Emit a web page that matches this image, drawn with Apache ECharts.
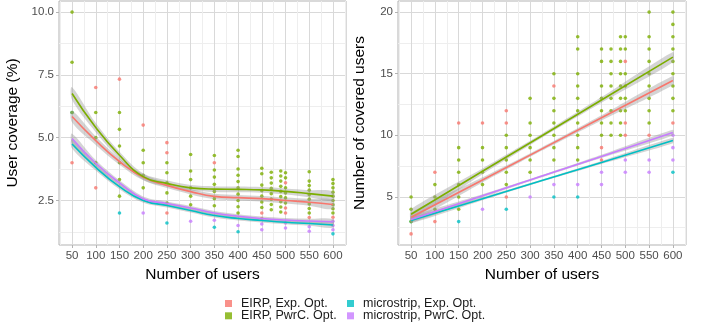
<!DOCTYPE html>
<html>
<head>
<meta charset="utf-8">
<script src="https://cdn.jsdelivr.net/npm/echarts@6/dist/echarts.min.js"></script>
<style>
  html, body { margin: 0; padding: 0; background: #fff; }
  #chart { width: 708px; height: 327px; }
</style>
</head>
<body>
<div id="chart"></div>
<script>
const FONT = '"Liberation Sans", Arial, sans-serif';

const seriesNames = ['EIRP, Exp. Opt.', 'EIRP, PwrC. Opt.', 'microstrip, Exp. Opt.', 'microstrip, PwrC. Opt.'];
const seriesColors = ['#F8766D', '#7CAE00', '#00BFC4', '#C77CFF'];

const userTicks = [50, 100, 150, 200, 250, 300, 350, 400, 450, 500, 550, 600];
const userMinor = [25, 75, 125, 175, 225, 275, 325, 375, 425, 475, 525, 575, 625];
const covTicks = [2.5, 5, 7.5, 10];
const covMinor = [1.25, 3.75, 6.25, 8.75];
const cntTicks = [5, 10, 15, 20];
const cntMinor = [2.5, 7.5, 12.5, 17.5];

// left panel: user coverage (%) points  [users, %]
const covEirpExp = [[50, 4], [100, 7], [100, 3], [150, 7.33], [200, 5.5], [250, 4.8], [250, 4.4], [250, 2],
  [350, 4], [450, 2], [450, 1.78], [500, 3.2], [500, 2.2], [500, 2], [550, 1.82], [600, 1.83]];
const covEirpPwr = [[50, 10], [50, 8], [50, 6], [100, 6], [100, 5], [100, 4],
  [150, 6], [150, 5.33], [150, 4.67], [150, 4], [150, 3.33], [150, 2.67],
  [200, 4.5], [200, 4], [200, 3.5], [200, 3],
  [250, 4], [250, 3.6], [250, 3.2], [250, 2.8], [250, 2.4],
  [300, 4.33], [300, 3.67], [300, 3.33], [300, 3], [300, 2.67], [300, 2.33],
  [350, 4.29], [350, 3.71], [350, 3.43], [350, 3.14], [350, 2.86], [350, 2.57], [350, 2.29],
  [400, 4.5], [400, 4.25], [400, 3.75], [400, 3.5], [400, 3.25], [400, 3], [400, 2.75], [400, 2.5], [400, 2.25], [400, 2],
  [450, 3.78], [450, 3.56], [450, 3.11], [450, 2.89], [450, 2.67], [450, 2.44], [450, 2.22],
  [470, 3.62], [470, 3.4], [470, 3.19], [470, 2.98], [470, 2.77], [470, 2.55], [470, 2.34], [470, 2.13],
  [490, 3.67], [490, 3.47], [490, 3.27], [490, 3.06], [490, 2.86], [490, 2.65], [490, 2.45], [490, 2.24], [490, 2.04],
  [500, 3.6], [500, 3.4], [500, 3], [500, 2.8], [500, 2.6], [500, 2.4],
  [550, 3.64], [550, 3.27], [550, 3.09], [550, 2.91], [550, 2.73], [550, 2.55], [550, 2.36], [550, 2.18], [550, 2],
  [600, 3.33], [600, 3.17], [600, 3], [600, 2.83], [600, 2.67], [600, 2.5], [600, 2.33], [600, 2.17], [600, 2]];
const covMicroExp = [[50, 6], [150, 2], [250, 1.6], [350, 1.43], [400, 1.25], [600, 1.17]];
const covMicroPwr = [[200, 2], [300, 1.67], [350, 1.71], [400, 1.5], [450, 1.56], [450, 1.33],
  [500, 1.6], [500, 1.4], [550, 1.45], [550, 1.27], [600, 1.67], [600, 1.5], [600, 1.33]];

// left panel: loess fits and their band half-widths
const smoothX = [50, 100, 150, 200, 250, 300, 350, 400, 450, 500, 550, 600];
const covFitEirpExp = [5.84, 4.88, 4.05, 3.42, 3.1, 2.85, 2.66, 2.61, 2.57, 2.5, 2.43, 2.34];
const covFitEirpPwr = [6.76, 5.4, 4.3, 3.45, 3.18, 3.0, 2.95, 2.94, 2.92, 2.86, 2.77, 2.67];
const covFitMicroExp = [4.75, 3.82, 3.05, 2.5, 2.3, 2.1, 1.9, 1.78, 1.7, 1.63, 1.58, 1.52];
const covFitMicroPwr = [4.97, 3.98, 3.2, 2.57, 2.38, 2.2, 2.0, 1.87, 1.78, 1.72, 1.68, 1.65];
const covBandEirpExp = [0.23, 0.17, 0.13, 0.12, 0.11, 0.11, 0.11, 0.11, 0.11, 0.12, 0.14, 0.18];
const covBandEirpPwr = [0.25, 0.18, 0.14, 0.13, 0.12, 0.11, 0.11, 0.11, 0.11, 0.12, 0.14, 0.18];
const covBandMicroExp = [0.18, 0.13, 0.1, 0.09, 0.08, 0.08, 0.08, 0.08, 0.08, 0.08, 0.09, 0.11];
const covBandMicroPwr = [0.19, 0.13, 0.1, 0.09, 0.08, 0.08, 0.08, 0.08, 0.08, 0.08, 0.09, 0.11];

// right panel: number of covered users points  [users, covered]
const cntEirpExp = [[50, 2], [100, 7], [100, 3], [150, 11], [200, 11], [250, 12], [250, 11], [250, 5],
  [350, 14], [450, 9], [450, 8], [500, 16], [500, 11], [500, 10], [550, 10], [600, 11]];
const cntEirpPwr = [[50, 5], [50, 4], [50, 3], [100, 6], [100, 5], [100, 4],
  [150, 9], [150, 8], [150, 7], [150, 6], [150, 5], [150, 4],
  [200, 9], [200, 8], [200, 7], [200, 6],
  [250, 10], [250, 9], [250, 8], [250, 7], [250, 6],
  [300, 13], [300, 11], [300, 10], [300, 9], [300, 8], [300, 7],
  [350, 15], [350, 13], [350, 12], [350, 11], [350, 10], [350, 9], [350, 8],
  [400, 18], [400, 17], [400, 15], [400, 14], [400, 13], [400, 12], [400, 11], [400, 10], [400, 9], [400, 8],
  [450, 17], [450, 16], [450, 14], [450, 13], [450, 12], [450, 11], [450, 10],
  [470, 17], [470, 16], [470, 15], [470, 14], [470, 13], [470, 12], [470, 11], [470, 10],
  [490, 18], [490, 17], [490, 16], [490, 15], [490, 14], [490, 13], [490, 12], [490, 11], [490, 10],
  [500, 18], [500, 17], [500, 15], [500, 14], [500, 13], [500, 12],
  [550, 20], [550, 18], [550, 17], [550, 16], [550, 15], [550, 14], [550, 13], [550, 12], [550, 11],
  [600, 20], [600, 19], [600, 18], [600, 17], [600, 16], [600, 15], [600, 14], [600, 13], [600, 12]];
const cntMicroExp = [[50, 3], [150, 3], [250, 4], [350, 5], [400, 5], [600, 7]];
const cntMicroPwr = [[200, 4], [300, 5], [350, 6], [400, 6], [450, 7], [450, 6],
  [500, 8], [500, 7], [550, 8], [550, 7], [600, 10], [600, 9], [600, 8]];

// right panel: linear fits and their band half-widths
const linX = [50, 200, 325, 450, 600];
const cntFitEirpExp = [3.35, 6.38, 8.9, 11.42, 14.45];
const cntFitEirpPwr = [3.6, 7.08, 9.97, 12.87, 16.35];
const cntFitMicroExp = [3.08, 4.85, 6.33, 7.8, 9.58];
const cntFitMicroPwr = [3.17, 5.09, 6.69, 8.29, 10.22];
const cntBandEirpExp = [0.37, 0.21, 0.14, 0.21, 0.37];
const cntBandEirpPwr = [0.42, 0.23, 0.16, 0.23, 0.42];
const cntBandMicroExp = [0.22, 0.12, 0.08, 0.12, 0.22];
const cntBandMicroPwr = [0.24, 0.13, 0.09, 0.13, 0.24];

const chart = echarts.init(document.getElementById('chart'));

const tickText = { fontSize: 11.5, color: '#4d4d4d', fontFamily: FONT };
const titleText = { fontSize: 15.5, color: '#000', fontFamily: FONT };

function majorX(grid) {
  return {
    type: 'value', gridIndex: grid, min: 22.5, max: 627.5,
    axisLine: { show: false },
    axisTick: { show: true, length: 3, customValues: userTicks, lineStyle: { color: '#b3b3b3' } },
    axisLabel: Object.assign({ customValues: userTicks, margin: 5 }, tickText),
    splitLine: { show: true, lineStyle: { color: '#d9d9d9', width: 1 } },
    name: 'Number of users', nameLocation: 'middle', nameGap: 17, nameTextStyle: titleText
  };
}
function minorAxis(grid, min, max, vals) {
  return {
    type: 'value', gridIndex: grid, min: min, max: max,
    axisLine: { show: false }, axisLabel: { show: false },
    axisTick: { show: false, customValues: vals },
    splitLine: { show: true, lineStyle: { color: '#eeeeee', width: 1 } }
  };
}
function majorY(grid, min, max, ticks, name, gap, fmt) {
  return {
    type: 'value', gridIndex: grid, min: min, max: max,
    axisLine: { show: false },
    axisTick: { show: true, length: 3, customValues: ticks, lineStyle: { color: '#b3b3b3' } },
    axisLabel: Object.assign({ customValues: ticks, margin: 5, formatter: fmt }, tickText),
    splitLine: { show: true, lineStyle: { color: '#d9d9d9', width: 1 } },
    name: name, nameLocation: 'middle', nameGap: gap, nameTextStyle: titleText
  };
}

const series = [];

function addPanel(axis, pts, fitX, fits, bands, smooth) {
  // points: microstrip first so EIRP, PwrC. ends on top
  [2, 3, 0, 1].forEach(i => {
    series.push({
      type: 'scatter', name: seriesNames[i], xAxisIndex: axis, yAxisIndex: axis,
      data: pts[i], symbol: 'circle', symbolSize: 3.6, z: 2, silent: true,
      itemStyle: { color: seriesColors[i] }
    });
  });
  // confidence bands, drawn as one polygon through the axis scales
  fits.forEach((fit, i) => {
    const hw = bands[i];
    series.push({
      type: 'custom', xAxisIndex: axis, yAxisIndex: axis, silent: true, z: 3,
      data: fitX.map((x, j) => [x, fit[j] - hw[j], fit[j] + hw[j]]),
      encode: { x: 0, y: [1, 2] },
      renderItem: (params, api) => {
        if (params.dataIndex !== 0) return null;
        const upper = fitX.map((x, j) => api.coord([x, fit[j] + hw[j]]));
        const lower = fitX.map((x, j) => api.coord([x, fit[j] - hw[j]])).reverse();
        return {
          type: 'polygon', shape: { points: upper.concat(lower), smooth: smooth ? 0.35 : 0.2 },
          style: { fill: 'rgba(153,153,153,0.42)' }
        };
      }
    });
  });
  // fitted lines
  fits.forEach((fit, i) => {
    series.push({
      type: 'line', xAxisIndex: axis, yAxisIndex: axis,
      data: fitX.map((x, j) => [x, fit[j]]), symbol: 'none', smooth: smooth, silent: true,
      lineStyle: { color: seriesColors[i], width: 1.6 }, z: 4
    });
  });
}

addPanel(0, [covEirpExp, covEirpPwr, covMicroExp, covMicroPwr], smoothX,
  [covFitEirpExp, covFitEirpPwr, covFitMicroExp, covFitMicroPwr],
  [covBandEirpExp, covBandEirpPwr, covBandMicroExp, covBandMicroPwr], true);
addPanel(1, [cntEirpExp, cntEirpPwr, cntMicroExp, cntMicroPwr], linX,
  [cntFitEirpExp, cntFitEirpPwr, cntFitMicroExp, cntFitMicroPwr],
  [cntBandEirpExp, cntBandEirpPwr, cntBandMicroExp, cntBandMicroPwr], false);

// 2 x 2 legend, one legend component per key
const legendSpots = [[225, 297], [225, 309.3], [347, 297], [347, 309.3]];
const legends = seriesNames.map((nm, i) => ({
  left: legendSpots[i][0], top: legendSpots[i][1], orient: 'horizontal',
  icon: 'rect', itemWidth: 7, itemHeight: 7, selectedMode: false, padding: 0,
  data: [nm],
  textStyle: { fontSize: 12.5, lineHeight: 12, color: '#1a1a1a', fontFamily: FONT, padding: [0, 0, 0, 4] }
}));

const option = {
  animation: false,
  backgroundColor: '#fff',
  grid: [
    { left: 59, top: 1, width: 287, height: 244, show: true, borderColor: '#b3b3b3', borderWidth: 1, backgroundColor: 'transparent', outerBoundsMode: 'none' },
    { left: 398, top: 1, width: 288, height: 244, show: true, borderColor: '#b3b3b3', borderWidth: 1, backgroundColor: 'transparent', outerBoundsMode: 'none' }
  ],
  xAxis: [majorX(0), majorX(1),
    minorAxis(0, 22.5, 627.5, userMinor), minorAxis(1, 22.5, 627.5, userMinor)],
  yAxis: [
    majorY(0, 0.725, 10.442, covTicks, 'User coverage (%)', 38, v => v.toFixed(1)),
    majorY(1, 1.1, 20.9, cntTicks, 'Number of covered users', 30, v => String(v)),
    minorAxis(0, 0.725, 10.442, covMinor), minorAxis(1, 1.1, 20.9, cntMinor)
  ],
  legend: legends,
  series: series
};

chart.setOption(option);
</script>
</body>
</html>
